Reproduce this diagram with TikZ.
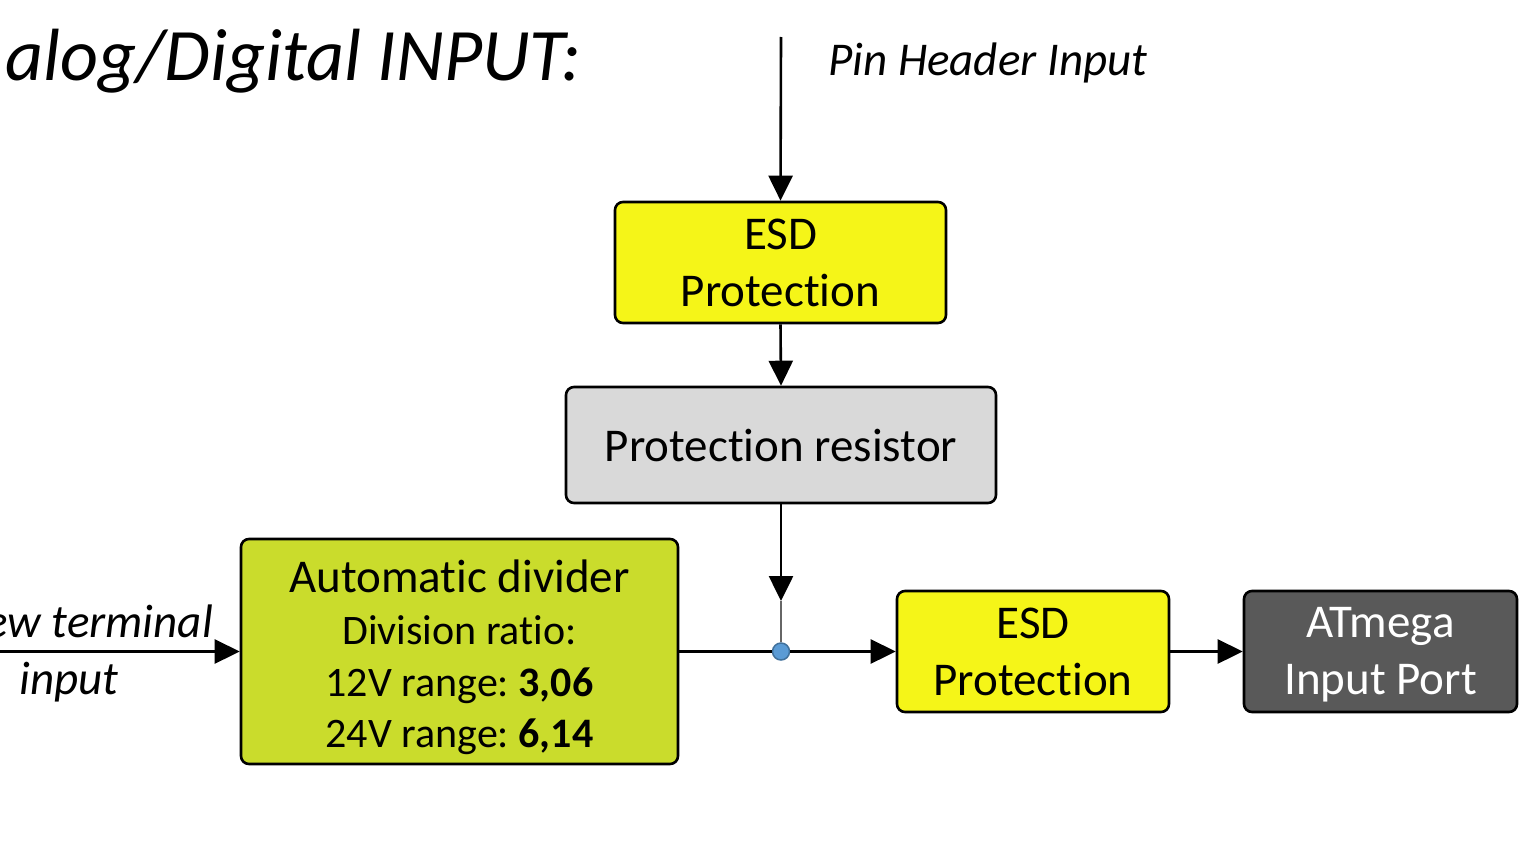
\documentclass[tikz,border=0pt]{standalone}
\usepackage{fontspec}
\setmainfont[RawFeature={-liga;-clig;-dlig;-calt;-rlig}]{Carlito}
\frenchspacing
\newcommand\tiSep{t\kern0pt i}
\usetikzlibrary{arrows.meta}
\definecolor{esdyellow}{HTML}{F5F518}
\definecolor{divgreen}{HTML}{CADC2C}
\definecolor{prgray}{HTML}{D9D9D9}
\definecolor{atgray}{HTML}{595959}
\definecolor{dotblue}{HTML}{5B9BD5}
\definecolor{dotedge}{HTML}{41719C}
\tikzset{
  blk/.style={draw=black, line width=2.6pt, rounded corners=8pt, align=center, inner sep=0pt,
    font=\fontsize{47}{57}\selectfont},
  conn/.style={line width=2.6pt, -{Triangle[length=25pt,width=24pt]}},
  lbl/.style={font=\fontsize{47}{57}\selectfont\itshape, inner sep=0pt},
}
\begin{document}
\begin{tikzpicture}[x=1pt,y=-1pt]
\useasboundingbox (0,0) rectangle (1538,843);
\fill[white] (0,0) rectangle (1538,843);
% title
\node[anchor=base west, inner sep=0pt, font=\fontsize{74}{80}\selectfont\itshape] (title) at (5,80) {alog/Digital INPUT:};
% blocks
\node[blk, fill=esdyellow, minimum width=331pt, minimum height=121pt] (esd1) at (780.5,262.5) {ESD\\Protec\tiSep on};
\node[blk, fill=prgray, minimum width=430pt, minimum height=116pt] (pr) at (781,445) {Protec\tiSep on resistor};
\node[blk, fill=divgreen, minimum width=437pt, minimum height=225pt] (div) at (459.5,651.5) {};
\node[align=center, inner sep=0pt, font=\fontsize{47}{57}\selectfont] (divtxt) at (459.5,657)
  {Automa\tiSep c divider\\[-5pt]{\fontsize{42}{52}\selectfont Division ra\tiSep o:}\\[-5pt]
   {\fontsize{42}{52}\selectfont 12V range: \textbf{3,06}}\\[-6pt]
   {\fontsize{42}{52}\selectfont 24V range: \textbf{6,14}}};
\node[blk, fill=esdyellow, minimum width=272pt, minimum height=121pt] (esd2) at (1033,651.5) {ESD\\Protec\tiSep on};
\node[blk, fill=atgray, minimum width=273pt, minimum height=121pt] (atm) at (1380.5,651.5) {};
\node[align=center, inner sep=0pt, text=white, font=\fontsize{47}{57}\selectfont] (atmtxt) at (1380.5,655) {ATmega\\Input Port};
% coordinates
\coordinate (pintop) at (781,37);
\coordinate (scrstart) at (0,651.5);
\coordinate (prtip) at (781,601);
% junction
\node[circle, fill=dotblue, draw=dotedge, line width=1.5pt, minimum size=17pt, inner sep=0pt] (dot) at (781,651.5) {};
% labels
\node[lbl, anchor=base west] (pinlbl) at (828,75) {Pin Header Input};
\node[lbl, anchor=base east] (scrlbl1) at (213,637) {ew terminal};
\node[lbl, anchor=base] (scrlbl2) at (69,694) {input};
% connectors
\draw[conn] (pintop) -- (esd1.north);
\draw[conn] (esd1.south) -- (pr.north);
\draw[conn] (pr.south) -- (prtip);
\draw[line width=1.5pt, black!60] (prtip) -- (dot.north);
\draw[conn] (scrstart) -- (div.west);
\draw[line width=2.6pt] (div.east) -- (dot.west);
\draw[conn] (dot.east) -- (esd2.west);
\draw[conn] (esd2.east) -- (atm.west);
\end{tikzpicture}
\end{document}
